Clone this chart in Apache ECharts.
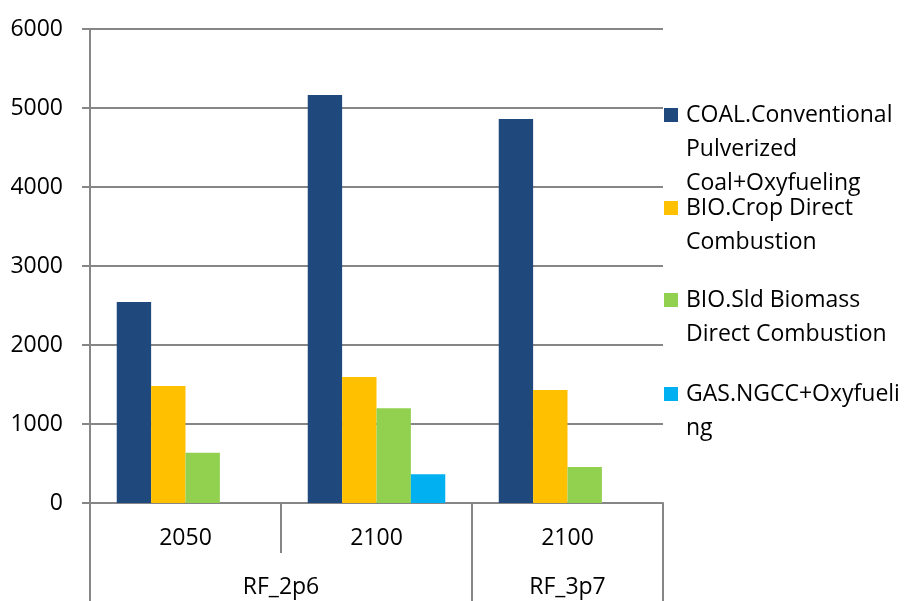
<!DOCTYPE html>
<html>
<head>
<meta charset="utf-8">
<script src="https://cdn.jsdelivr.net/npm/echarts@6/dist/echarts.min.js"></script>
<style>html,body{margin:0;padding:0;background:#fff}#c{width:904px;height:601px}</style>
</head>
<body>
<div id="c"></div>
<script>
var categories = ['2050', '2100', '2100'];
var groupLabels = ['RF_2p6', 'RF_3p7'];
var groupSpans = [2, 1];
var seriesNames = ['COAL.Conventional Pulverized Coal+Oxyfueling', 'BIO.Crop Direct Combustion', 'BIO.Sld Biomass Direct Combustion', 'GAS.NGCC+Oxyfueling'];
var legendLines = [
  ['COAL.Conventional', 'Pulverized', 'Coal+Oxyfueling'],
  ['BIO.Crop Direct', 'Combustion'],
  ['BIO.Sld Biomass', 'Direct Combustion'],
  ['GAS.NGCC+Oxyfueli', 'ng']
];
var coalValues = [2545, 5165, 4860];
var cropValues = [1480, 1595, 1430];
var sldValues = [635, 1200, 455];
var gasValues = [0, 365, 0];
var yTicks = [0, 1000, 2000, 3000, 4000, 5000, 6000];

var colors = ['#1F497D', '#FFC000', '#92D050', '#00B0F0'];
var FONT = 'Open Sans';
var FS = 23;
var gray = '#868686';

var bounds = [0], centers = [], acc = 0;
groupSpans.forEach(function (s) { centers.push(acc + s / 2); acc += s; bounds.push(acc); });

var chart = echarts.init(document.getElementById('c'), null, { renderer: 'canvas' });

var legendCenters = [115, 208, 300, 394];
var graphics = [];
legendLines.forEach(function (lines, i) {
  graphics.push({ type: 'rect', shape: { x: 664, y: legendCenters[i] - 7, width: 14, height: 14 }, style: { fill: colors[i] } });
  graphics.push({ type: 'text', x: 686, y: legendCenters[i] - 17, style: { text: lines.join('\n'), font: FS + 'px "' + FONT + '"', lineHeight: 34, fill: '#000', verticalAlign: 'top', align: 'left' } });
});

var allData = [coalValues, cropValues, sldValues, gasValues];

chart.setOption({
  animation: false,
  backgroundColor: '#fff',
  textStyle: { fontFamily: FONT },
  grid: { left: 90, right: 241, top: 29, bottom: 98, containLabel: false },
  graphic: graphics,
  xAxis: [
    {
      type: 'category', data: categories,
      axisLine: { show: true, lineStyle: { color: gray, width: 2 } },
      axisTick: { show: true, alignWithLabel: false, length: 50, lineStyle: { color: gray, width: 2 } },
      axisLabel: { color: '#000', fontSize: FS, fontFamily: FONT, margin: 24, interval: 0 },
      splitLine: { show: false }
    },
    {
      type: 'value', min: 0, max: bounds[bounds.length - 1], position: 'bottom',
      axisLine: { show: false },
      axisTick: { show: true, customValues: bounds, length: 98, lineStyle: { color: gray, width: 2 } },
      axisLabel: {
        show: true, customValues: centers, color: '#000', fontSize: FS, fontFamily: FONT, margin: 73,
        formatter: function (v) { var k = centers.indexOf(v); return k >= 0 ? groupLabels[k] : ''; }
      },
      splitLine: { show: false }
    }
  ],
  yAxis: {
    type: 'value', min: yTicks[0], max: yTicks[yTicks.length - 1], interval: 1000,
    axisLine: { show: true, lineStyle: { color: gray, width: 2 } },
    axisTick: { show: true, length: 8, lineStyle: { color: gray, width: 2 } },
    axisLabel: { color: '#000', fontSize: FS, fontFamily: FONT, margin: 27, formatter: function (v) { return String(v); } },
    splitLine: { show: true, lineStyle: { color: gray, width: 2 } }
  },
  series: allData.map(function (d, i) {
    return {
      name: seriesNames[i], type: 'bar', xAxisIndex: 0, data: d,
      barGap: '0%', barCategoryGap: '28%',
      itemStyle: { color: colors[i] }
    };
  })
});
</script>
</body>
</html>
